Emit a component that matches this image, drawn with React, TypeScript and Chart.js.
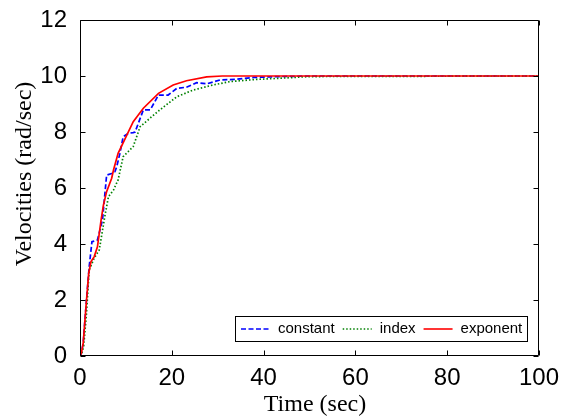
import { useEffect, useRef } from "react";
import { Chart, registerables } from "chart.js";
Chart.register(...registerables);

const seriesLabels = ["constant", "index", "exponent"];
const seriesColors = ["rgb(0,0,255)", "rgb(0,128,0)", "rgb(255,0,0)"];

const timeConstant = [0, 0.3, 0.7, 1.3, 2.0, 2.6, 3.8, 4.9, 5.8, 6.9, 7.6, 8.0, 8.7, 9.4, 10.5, 11.6, 12.0, 13.8, 15.3, 17.1, 19.2, 21.1, 23.2, 25.4, 27.6, 30.5, 34, 37.8, 43.5, 50, 100];
const velConstant = [0, 0.1, 0.46, 1.76, 3.19, 4.08, 4.14, 4.86, 6.46, 6.52, 6.58, 6.76, 7.24, 7.83, 7.95, 7.98, 8.0, 8.79, 8.79, 9.32, 9.32, 9.56, 9.6, 9.76, 9.72, 9.86, 9.88, 9.95, 9.98, 10, 10];

const timeIndex = [0, 0.4, 0.8, 1.4, 2.0, 3.1, 4.2, 5.4, 6.2, 7.3, 8.3, 9.4, 10.5, 11.6, 13.1, 15.3, 17.4, 21.1, 24.7, 29, 32.7, 38.5, 43.6, 50, 100];
const velIndex = [0, 0.1, 0.35, 1.5, 3.07, 3.5, 3.79, 4.98, 5.69, 5.93, 6.29, 7.12, 7.3, 7.48, 8.19, 8.5, 8.79, 9.26, 9.5, 9.68, 9.8, 9.88, 9.92, 9.98, 10];

const timeExponent = [0, 0.3, 0.7, 1.3, 1.9, 2.4, 3.1, 3.8, 4.6, 5.1, 5.8, 6.9, 7.3, 8.3, 10.2, 11.6, 13.8, 17.1, 20.3, 23.2, 27.6, 31, 40, 100];
const velExponent = [0, 0.1, 0.46, 1.76, 2.96, 3.37, 3.55, 3.9, 4.86, 5.39, 5.87, 6.35, 6.64, 7.24, 7.89, 8.37, 8.85, 9.38, 9.68, 9.83, 9.97, 10.0, 10.0, 10.0];

const xTicks = [0, 20, 40, 60, 80, 100];
const yTicks = [0, 2, 4, 6, 8, 10, 12];
const xTitle = "Time (sec)";
const yTitle = "Velocities (rad/sec)";

const dashes: number[][] = [[5, 2.5], [1.5, 2], []];

const toPoints = (t: number[], v: number[]) => t.map((x, i) => ({ x, y: v[i] }));

const framePlugin = {
  id: "frame",
  afterDatasetsDraw(chart: any) {
    const { ctx, chartArea: a, scales } = chart;
    const xs = scales.x;
    const ys = scales.y;
    const L = Math.round(a.left) + 0.5;
    const R = Math.round(a.right) - 0.5;
    const T = Math.round(a.top) + 0.5;
    const B = Math.round(a.bottom) - 0.5;
    ctx.save();
    ctx.setLineDash([]);
    ctx.strokeStyle = "#000";
    ctx.lineWidth = 1;
    ctx.beginPath();
    ctx.rect(L, T, R - L, B - T);
    ctx.stroke();
    const tl = 5;
    ctx.beginPath();
    xTicks.forEach((v) => {
      const p = Math.round(xs.getPixelForValue(v)) + 0.5;
      ctx.moveTo(p, B);
      ctx.lineTo(p, B - tl);
      ctx.moveTo(p, T);
      ctx.lineTo(p, T + tl);
    });
    yTicks.forEach((v) => {
      const p = Math.round(ys.getPixelForValue(v)) + 0.5;
      ctx.moveTo(L, p);
      ctx.lineTo(L + tl, p);
      ctx.moveTo(R, p);
      ctx.lineTo(R - tl, p);
    });
    ctx.stroke();

    // axis titles
    ctx.fillStyle = "#000";
    ctx.font = "24px 'Liberation Serif'";
    ctx.textAlign = "center";
    ctx.textBaseline = "middle";
    ctx.fillText(xTitle, (a.left + a.right) / 2 + 5.5, a.bottom + 49);
    ctx.save();
    ctx.translate(25, (a.top + a.bottom) / 2 - 14);
    ctx.rotate(-Math.PI / 2);
    ctx.fillText(yTitle, 0, 0);
    ctx.restore();

    // legend
    ctx.font = "15px 'Liberation Sans'";
    const sample = 29;
    const padL = 6;
    const gapText = 8;
    const gapItem = 8;
    const padR = 5;
    const widths = seriesLabels.map((s) => ctx.measureText(s).width);
    let total = padL + padR;
    widths.forEach((w, i) => {
      total += sample + gapText + w + (i < widths.length - 1 ? gapItem : 0);
    });
    const boxR = Math.round(a.right) - 12;
    const boxB = Math.round(a.bottom) - 15;
    const boxH = 25;
    const boxL = Math.round(boxR - total);
    const boxT = boxB - boxH;
    ctx.fillStyle = "#fff";
    ctx.fillRect(boxL, boxT, boxR - boxL, boxH);
    ctx.strokeStyle = "#000";
    ctx.lineWidth = 1;
    ctx.strokeRect(boxL + 0.5, boxT + 0.5, boxR - boxL, boxH);
    const cy = boxT + boxH / 2 + 0.5;
    let cx = boxL + padL;
    seriesLabels.forEach((s, i) => {
      ctx.strokeStyle = seriesColors[i];
      ctx.lineWidth = 1.6;
      ctx.setLineDash(dashes[i]);
      ctx.beginPath();
      ctx.moveTo(cx, cy);
      ctx.lineTo(cx + sample, cy);
      ctx.stroke();
      ctx.setLineDash([]);
      cx += sample + gapText;
      ctx.fillStyle = "#000";
      ctx.textAlign = "left";
      ctx.textBaseline = "middle";
      ctx.fillText(s, cx, cy);
      cx += widths[i] + gapItem;
    });
    ctx.restore();
  },
};

export default function App() {
  const ref = useRef<HTMLCanvasElement>(null);
  useEffect(() => {
    if (!ref.current) return;
    const tickFont = { family: "'Liberation Sans'", size: 24 };
    const series = [
      toPoints(timeConstant, velConstant),
      toPoints(timeIndex, velIndex),
      toPoints(timeExponent, velExponent),
    ];
    const chart = new Chart(ref.current, {
      type: "line",
      data: {
        datasets: series.map((d, i) => ({
          label: seriesLabels[i],
          data: d,
          borderColor: seriesColors[i],
          backgroundColor: seriesColors[i],
          borderWidth: 1.7,
          borderDash: dashes[i],
          pointRadius: 0,
          tension: 0,
          fill: false,
          order: 2 - i,
        })),
      },
      options: {
        responsive: false,
        animation: false,
        events: [],
        layout: { padding: { top: 20, right: 29, left: 0, bottom: 0 } },
        plugins: { legend: { display: false }, tooltip: { enabled: false } },
        scales: {
          x: {
            type: "linear",
            min: 0,
            max: 100,
            afterFit: (s: any) => {
              s.height = 63;
            },
            afterBuildTicks: (s: any) => {
              s.ticks = xTicks.map((value) => ({ value }));
            },
            ticks: { font: tickFont, color: "#000", padding: 0, maxRotation: 0 },
            grid: { display: false },
            border: { display: false },
          },
          y: {
            type: "linear",
            min: 0,
            max: 12,
            afterFit: (s: any) => {
              s.width = 80;
            },
            afterBuildTicks: (s: any) => {
              s.ticks = yTicks.map((value) => ({ value }));
            },
            ticks: { font: tickFont, color: "#000", padding: 5 },
            grid: { display: false },
            border: { display: false },
          },
        },
      } as any,
      plugins: [framePlugin],
    });
    return () => chart.destroy();
  }, []);
  return (
    <canvas
      ref={ref}
      width={568}
      height={419}
      style={{ position: "fixed", left: 0, top: 0, display: "block", background: "#fff" }}
    />
  );
}
